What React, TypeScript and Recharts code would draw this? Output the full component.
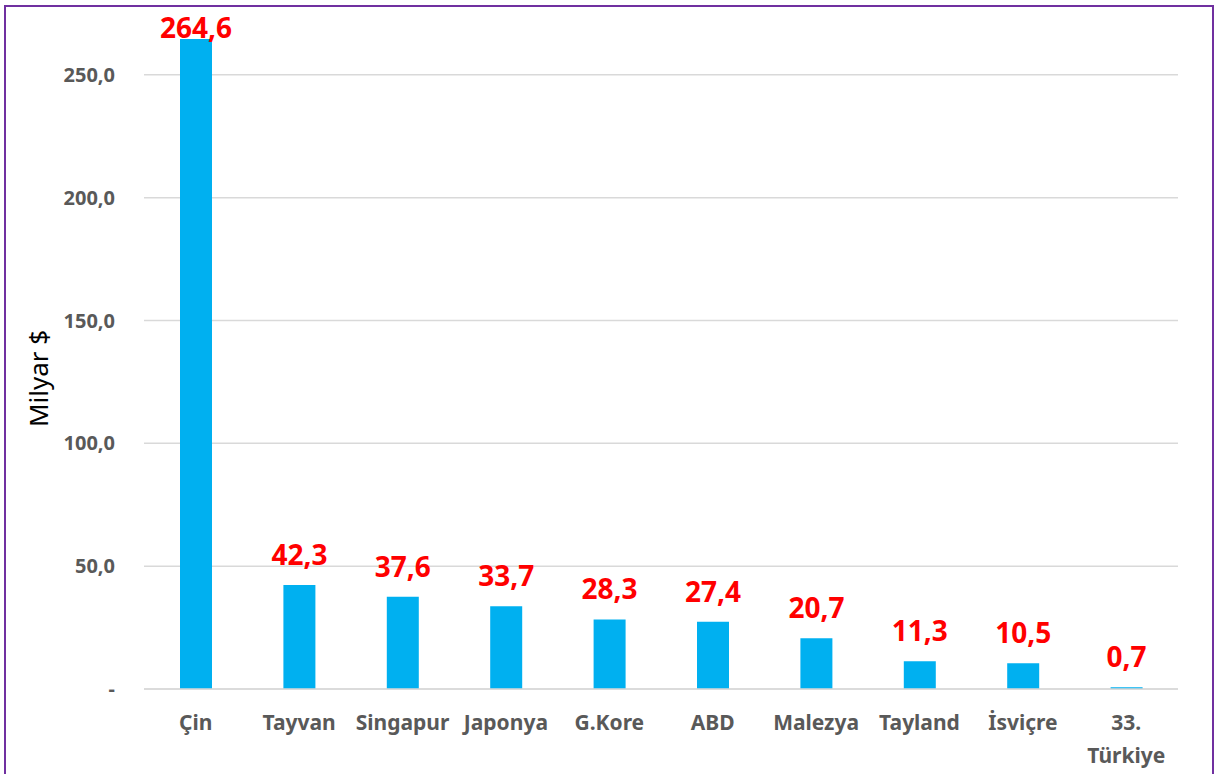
import { BarChart, Bar, XAxis, YAxis, CartesianGrid, LabelList, Label } from 'recharts';

const countries = ['Çin', 'Tayvan', 'Singapur', 'Japonya', 'G.Kore', 'ABD', 'Malezya', 'Tayland', 'İsviçre', '33.\nTürkiye'];
const values = [264.6, 42.3, 37.6, 33.7, 28.3, 27.4, 20.7, 11.3, 10.5, 0.7];
const yTicks = [0, 50, 100, 150, 200, 250];

const FONT = '"Noto Sans", "Open Sans", sans-serif';
const GREY = '#595959';

const chartData = countries.map((name, i) => ({ name, value: values[i] }));

const fmt = (v: number) => (v === 0 ? '-' : v.toFixed(1).replace('.', ','));

function CountryTick(props: any) {
  const { x, y, payload } = props;
  const lines = String(payload.value).split('\n');
  return (
    <text x={x} y={y} textAnchor="middle" fill={GREY} fontFamily={FONT} fontSize={21} fontWeight="bold">
      {lines.map((l, i) => (
        <tspan key={i} x={x} dy={i === 0 ? 41 : 33}>{l}</tspan>
      ))}
    </text>
  );
}

function ValueLabel(props: any) {
  const { x, y, width, value } = props;
  // label sits ~20px above bar top, but never above the plot top
  const base = Math.max(y - 20, 38);
  return (
    <text x={x + width / 2} y={base} textAnchor="middle" fill="#FF0000" fontFamily={FONT} fontSize={28} fontWeight="bold">
      {fmt(value)}
    </text>
  );
}

function AxisTitle(props: any) {
  const { viewBox } = props;
  const cx = 38;
  const cy = viewBox.y + viewBox.height / 2 + 15;
  return (
    <text x={cx} y={cy} transform={`rotate(-90, ${cx}, ${cy})`} textAnchor="middle" dominantBaseline="central" fill="#000" fontFamily={FONT} fontSize={26}>
      Milyar $
    </text>
  );
}

export default function App() {
  return (
    <div style={{ position: 'absolute', left: 0, top: 0, width: 1215, height: 774, background: '#fff', overflow: 'hidden' }}>
      <div style={{ position: 'absolute', left: 4, top: 5, width: 1206, height: 800, border: '2px solid #7030A0' }} />
      <div style={{ position: 'absolute', left: 0, top: 0 }}>
        <BarChart width={1215} height={774} data={chartData} margin={{ top: 38, right: 37, left: 0, bottom: 0 }}>
          <CartesianGrid horizontal vertical={false} horizontalValues={yTicks} stroke="#D9D9D9" strokeWidth={1.5} />
          <XAxis dataKey="name" height={85} tickLine={false} axisLine={{ stroke: '#D9D9D9', strokeWidth: 1.5 }} tickSize={0} tickMargin={0} interval={0} tick={<CountryTick />} />
          <YAxis
            width={144}
            domain={[0, 265]}
            ticks={yTicks}
            allowDataOverflow
            tickFormatter={fmt}
            axisLine={false}
            tickLine={false}
            tickSize={0}
            tickMargin={29}
            tick={{ fill: GREY, fontFamily: FONT, fontSize: 20, fontWeight: 'bold' }}
          >
            <Label content={<AxisTitle />} />
          </YAxis>
          <Bar dataKey="value" fill="#00B0F0" barSize={32} isAnimationActive={false}>
            <LabelList dataKey="value" content={<ValueLabel />} />
          </Bar>
        </BarChart>
      </div>
    </div>
  );
}
